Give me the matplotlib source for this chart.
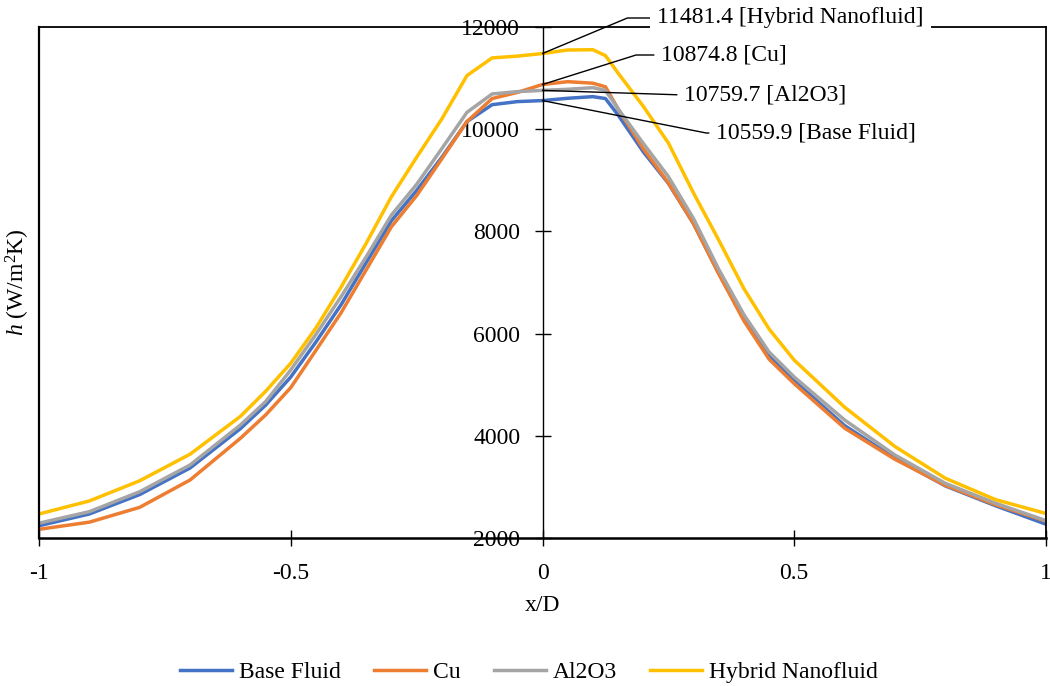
import matplotlib
matplotlib.use('Agg')
import matplotlib.pyplot as plt
from matplotlib.lines import Line2D

plt.rcParams['font.family'] = ['Liberation Serif', 'DejaVu Serif']
plt.rcParams['mathtext.fontset'] = 'custom'
plt.rcParams['mathtext.rm'] = 'Liberation Serif'
plt.rcParams['mathtext.it'] = 'Liberation Serif:italic'
plt.rcParams['axes.unicode_minus'] = False

# x/D positions and heat transfer coefficient
x_d = [-1, -0.9, -0.8, -0.7, -0.6, -0.55, -0.5, -0.45, -0.4, -0.35, -0.3, -0.25, -0.2,
       -0.15, -0.1, -0.05, 0, 0.05, 0.1, 0.125, 0.15, 0.2, 0.25, 0.3, 0.35, 0.4, 0.45,
       0.5, 0.6, 0.7, 0.8, 0.9, 1.0]
base_fluid = [2240, 2470, 2850, 3370, 4140, 4600, 5150, 5836, 6566, 7392, 8210, 8800, 9450,
              10150, 10480, 10540, 10560, 10605, 10637, 10600, 10280, 9560, 8940, 8150, 7180,
              6290, 5560, 5080, 4200, 3560, 3020, 2630, 2270]
cu = [2170, 2310, 2600, 3135, 3951, 4407, 4943, 5673, 6409, 7251, 8092, 8700, 9420,
      10150, 10600, 10720, 10875, 10930, 10900, 10830, 10400, 9620, 8950, 8150, 7170,
      6250, 5500, 5020, 4150, 3540, 3030, 2650, 2330]
al2o3 = [2290, 2515, 2906, 3429, 4211, 4668, 5288, 5983, 6723, 7505, 8320, 8920, 9620,
         10330, 10690, 10735, 10760, 10781, 10813, 10760, 10400, 9724, 9072, 8250, 7258,
         6370, 5640, 5150, 4309, 3624, 3070, 2680, 2340]
hybrid = [2470, 2725, 3120, 3640, 4380, 4870, 5420, 6110, 6910, 7770, 8680, 9450, 10200,
          11050, 11395, 11430, 11481, 11550, 11555, 11440, 11100, 10450, 9730, 8750, 7830,
          6880, 6090, 5480, 4560, 3790, 3170, 2750, 2480]

series_names = ['Base Fluid', 'Cu', 'Al2O3', 'Hybrid Nanofluid']
series_colors = ['#4472C4', '#ED7D31', '#A5A5A5', '#FFC000']
centre_values = [10559.9, 10874.8, 10759.7, 11481.4]

x_ticks = [-1, -0.5, 0, 0.5, 1]
x_tick_labels = ['-1', '-0.5', '0', '0.5', '1']
y_ticks = [2000, 4000, 6000, 8000, 10000, 12000]

fig = plt.figure(figsize=(10.5, 6.86), dpi=100)
ax = fig.add_axes([39 / 1050, 1 - 538 / 686, 1007 / 1050, 511 / 686])

for vals, name, col in zip([base_fluid, cu, al2o3, hybrid], series_names, series_colors):
    ax.plot(x_d, vals, color=col, lw=2.5, label=name, solid_joinstyle='round')

ax.set_xlim(-1, 1)
ax.set_ylim(2000, 12000)

# y axis through x = 0, plus a box round the plot area
ax.spines['left'].set_position(('data', 0))
ax.spines['left'].set_linewidth(1.0)
for s in ['top', 'right']:
    ax.spines[s].set_linewidth(1.3)
ax.spines['bottom'].set_linewidth(1.8)
ax.add_line(Line2D([0, 0], [0, 1], transform=ax.transAxes, color='black', lw=1.6, clip_on=False))

ax.set_xticks(x_ticks)
ax.set_xticklabels(x_tick_labels)
ax.set_yticks(y_ticks)
ax.tick_params(axis='both', direction='inout', length=12, width=1.0, labelsize=17, colors='black')
ax.tick_params(axis='x', pad=12)
ax.tick_params(axis='y', pad=10)

ax.set_xlabel('x/D', fontsize=17)
ax.xaxis.set_label_coords(0.5, -0.112)
ax.set_ylabel('$h$ (W/m$^2$K)', fontsize=17)
ax.yaxis.label.set_va('center')
ax.yaxis.set_label_coords(-0.021, 0.5)

# value labels at x/D = 0 with leader lines
label_pos = {'Hybrid Nanofluid': (657, 668, 22.7),
             'Cu': (661, 631, 17.5),
             'Al2O3': (684, 591, None),
             'Base Fluid': (716, 553, -11.2)}
for name, val in zip(series_names, centre_values):
    tx, ty, ang = label_pos[name]
    if ang is None:
        cs = 'arc3'
    else:
        cs = 'angle,angleA=0,angleB=%s,rad=0' % ang
    fc = 'white' if name == 'Hybrid Nanofluid' else 'none'
    ax.annotate('%.1f [%s]' % (val, name), xy=(0, val), xycoords='data',
                xytext=(tx, ty), textcoords='figure pixels',
                ha='left', va='center', fontsize=17, zorder=6,
                bbox=dict(boxstyle='square,pad=0.3', fc=fc, ec='none'),
                arrowprops=dict(arrowstyle='-', color='black', lw=1.0,
                                connectionstyle=cs, shrinkA=0, shrinkB=0,
                                relpos=(0, 0.5)))

fig.legend(loc='center', bbox_to_anchor=(0.504, 0.02), ncol=4, frameon=False,
           fontsize=17, handlelength=2.2, handletextpad=0.3, columnspacing=1.4)

fig.savefig('out.png', dpi=100)
